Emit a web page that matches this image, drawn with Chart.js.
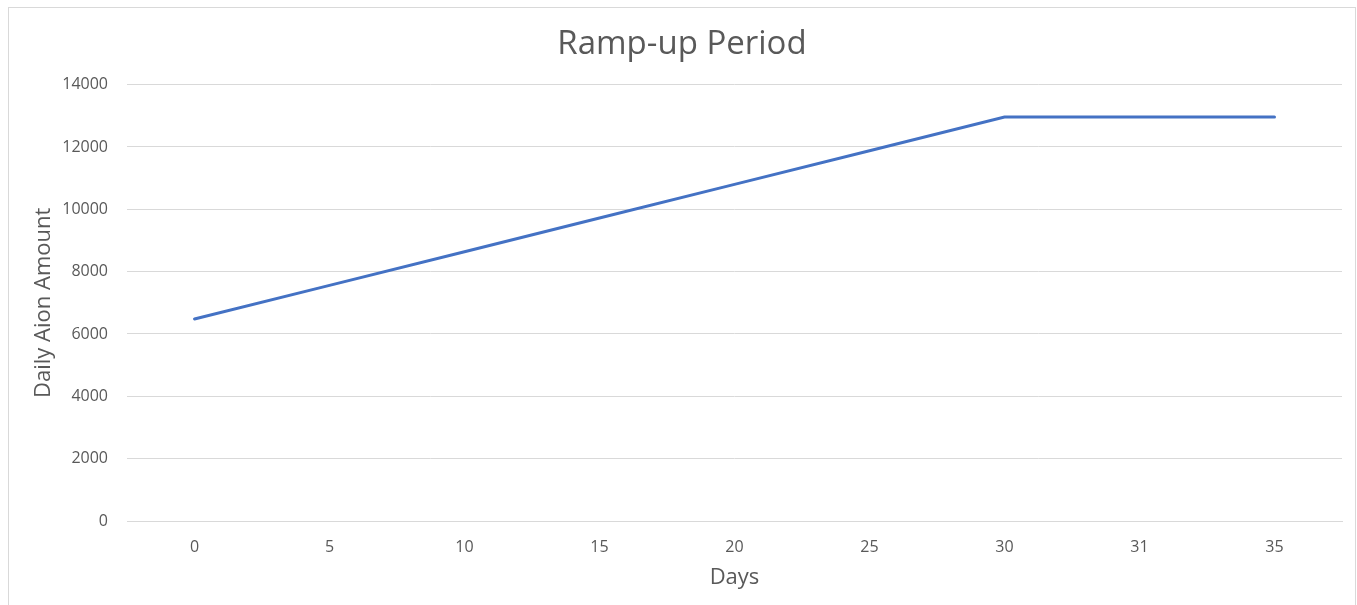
<!DOCTYPE html>
<html>
<head>
<meta charset="utf-8">
<script src="https://cdn.jsdelivr.net/npm/chart.js@4/dist/chart.umd.min.js"></script>
<style>
  body { margin: 0; background: #fff; }
  #box { position: absolute; left: 8px; top: 7px; width: 1346px; height: 610px; border: 1px solid #d9d9d9; }
  canvas { display: block; }
</style>
</head>
<body>
<div id="box"><canvas id="rampChart" width="1346" height="598"></canvas></div>
<script>
var days = ["0", "5", "10", "15", "20", "25", "30", "31", "35"];
var dailyAmount = [6480, 7560, 8640, 9720, 10800, 11880, 12960, 12960, 12960];

var textColor = '#595959';
var font = "'Open Sans', sans-serif";

var ctx = document.getElementById("rampChart").getContext('2d');
var rampChart = new Chart(ctx, {
    type: 'line',
    data: {
        labels: days,
        datasets: [{
            label: 'Daily Aion Amount',
            data: dailyAmount,
            borderColor: '#4472c4',
            backgroundColor: '#4472c4',
            borderWidth: 3,
            borderCapStyle: 'round',
            tension: 0,
            pointRadius: 0,
            fill: false
        }]
    },
    options: {
        responsive: false,
        animation: false,
        layout: { padding: { left: 13, right: 13, top: 0, bottom: 0 } },
        plugins: {
            legend: { display: false },
            tooltip: { enabled: false },
            title: {
                display: true,
                text: 'Ramp-up Period',
                color: textColor,
                font: { family: font, size: 33, weight: 'normal' },
                padding: { top: 17, bottom: 20 }
            }
        },
        scales: {
            x: {
                offset: true,
                grid: { display: false, drawTicks: false },
                border: { display: true, color: '#d9d9d9' },
                ticks: { color: textColor, font: { family: font, size: 16 }, padding: 17, maxRotation: 0 },
                title: {
                    display: true,
                    text: 'Days',
                    color: textColor,
                    font: { family: font, size: 22 },
                    padding: { top: 0, bottom: 15 }
                },
                afterFit: function (scale) { scale.height = 85; }
            },
            y: {
                min: 0,
                max: 14000,
                grid: { color: '#d9d9d9', drawTicks: false },
                border: { display: false },
                ticks: {
                    stepSize: 2000,
                    color: textColor,
                    font: { family: font, size: 16 },
                    padding: 19,
                    callback: function (value) { return String(value); }
                },
                title: {
                    display: true,
                    text: 'Daily Aion Amount',
                    color: textColor,
                    font: { family: font, size: 22 },
                    padding: { top: 9, bottom: 0 }
                },
                afterFit: function (scale) { scale.width = 105; }
            }
        }
    }
});
</script>
</body>
</html>
